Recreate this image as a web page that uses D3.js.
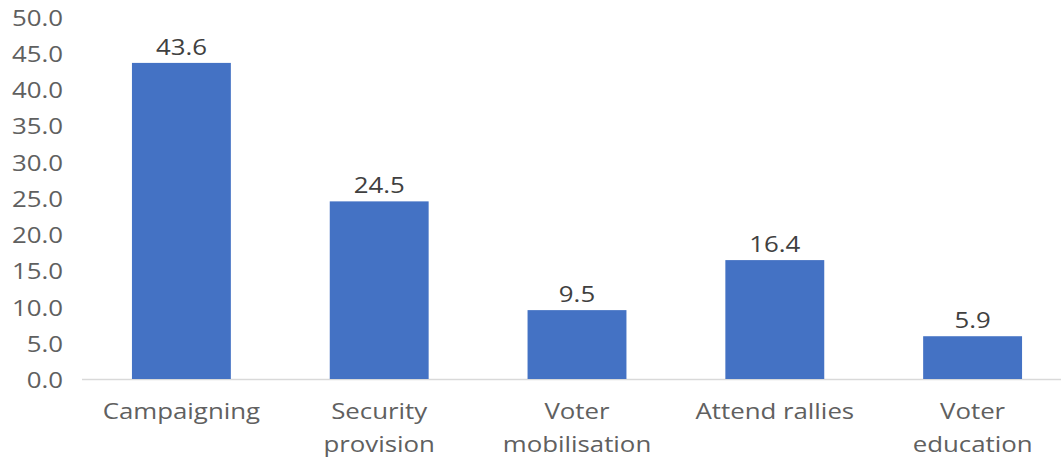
<!DOCTYPE html>
<html><head><meta charset="utf-8">
<script src="https://cdn.jsdelivr.net/npm/d3@7"></script>
<style>body{margin:0;background:#fff;overflow:hidden}</style>
</head><body>
<svg id="c" width="1061" height="459"></svg>
<script>
const categories = [["Campaigning"], ["Security", "provision"], ["Voter", "mobilisation"], ["Attend rallies"], ["Voter", "education"]];
const values = [43.6, 24.5, 9.5, 16.4, 5.9];
const yTicks = [0, 5, 10, 15, 20, 25, 30, 35, 40, 45, 50];

const svg = d3.select("#c");
const font = "'Open Sans', 'Noto Sans', sans-serif";
const fs = 21, sx = 1.23;
const keys = categories.map(c => c.join(" "));
const x = d3.scaleBand().domain(keys).range([82.5, 1071.5]).paddingInner(0.5).paddingOuter(0.25);
const y = d3.scaleLinear().domain([0, 50]).range([379, 16.5]);

// y axis labels
const ya = svg.append("g").attr("transform", "translate(63,0)")
  .call(d3.axisLeft(y).tickValues(yTicks).tickFormat(d3.format(".1f")).tickSize(0).tickPadding(0));
ya.select(".domain").remove();
ya.selectAll("text").attr("x", 0).attr("dy", "0.34em").attr("transform", `translate(0,1.5) scale(${sx},1)`)
  .attr("font-family", font).attr("font-size", fs).attr("fill", "#606060");

// x axis line
svg.append("line").attr("x1", 82).attr("x2", 1061).attr("y1", y(0)+0.5).attr("y2", y(0)+0.5)
  .attr("stroke", "#D9D9D9").attr("stroke-width", 1.5);

// bars
svg.selectAll("rect.bar").data(values).join("rect").attr("class", "bar")
  .attr("x", (d, i) => x(keys[i])).attr("width", x.bandwidth())
  .attr("y", d => y(d)).attr("height", d => y(0) - y(d))
  .attr("fill", "#4472C4");

// value labels
svg.selectAll("text.val").data(values).join("text").attr("class", "val")
  .attr("transform", (d, i) => `translate(${x(keys[i]) + x.bandwidth() / 2},${y(d) - 8}) scale(${sx},1)`)
  .attr("text-anchor", "middle").attr("font-family", font).attr("font-size", fs).attr("fill", "#404040")
  .text(d => d3.format(".1f")(d));

// category labels
const cl = svg.selectAll("text.cat").data(categories).join("text").attr("class", "cat")
  .attr("transform", (d, i) => `translate(${x(keys[i]) + x.bandwidth() / 2},419) scale(${sx},1)`)
  .attr("text-anchor", "middle").attr("font-family", font).attr("font-size", fs).attr("fill", "#606060");
cl.selectAll("tspan").data(d => d).join("tspan")
  .attr("x", 0).attr("dy", (d, i) => i === 0 ? 0 : 33).text(d => d);
</script>
</body></html>
